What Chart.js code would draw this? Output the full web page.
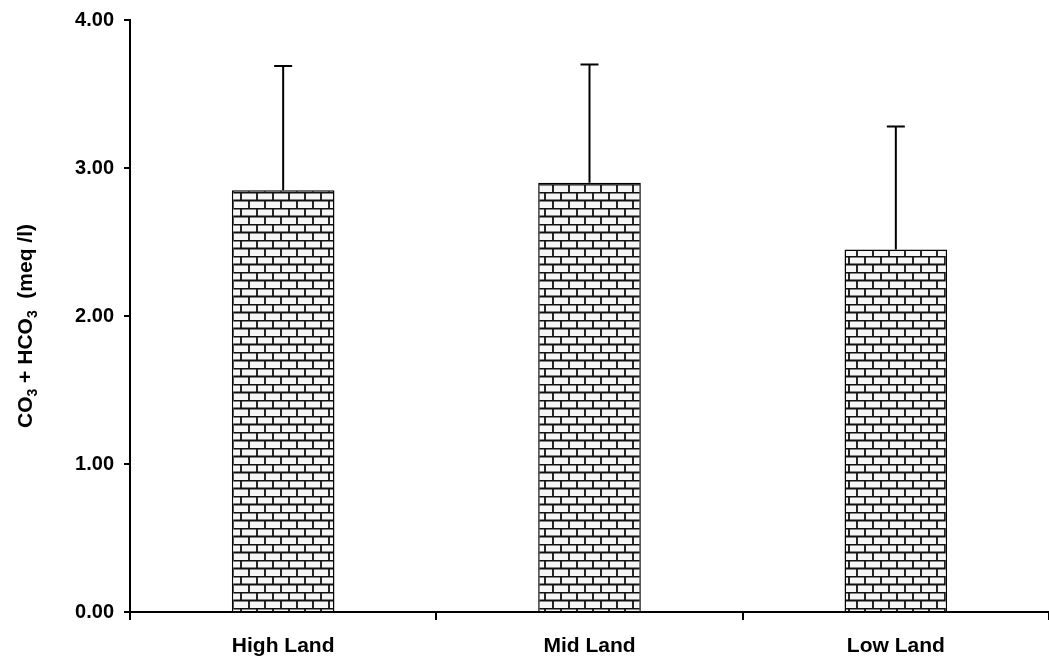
<!DOCTYPE html>
<html>
<head>
<meta charset="utf-8">
<script src="https://cdn.jsdelivr.net/npm/chart.js@4/dist/chart.umd.min.js"></script>
<style>
  html, body { margin: 0; padding: 0; background: #fff; }
  #wrap { width: 1049px; height: 664px; position: relative; }
</style>
</head>
<body>
<div id="wrap"><canvas id="c"></canvas></div>
<script>
// Site categories and mean carbonate + bicarbonate (meq/l) with standard deviation
const categories = ['High Land', 'Mid Land', 'Low Land'];
const meanValues = [2.85, 2.90, 2.45];
const sdValues = [0.84, 0.80, 0.83];
const yTicks = [0, 1, 2, 3, 4];

// Axis title pieces: [text, isSubscript]
const yTitleParts = [['CO', false], ['3', true], [' + HCO', false], ['3', true], ['  (meq /l)', false]];

const FONT = 'Liberation Sans, Arial, sans-serif';

// Brick hatch fill for the bars
function brickPattern() {
  const p = document.createElement('canvas');
  p.width = 16; p.height = 16;
  const g = p.getContext('2d');
  g.fillStyle = '#f6f6f6';
  g.fillRect(0, 0, 16, 16);
  g.strokeStyle = '#111';
  g.lineWidth = 1.8;
  g.beginPath();
  g.moveTo(0, 0.5); g.lineTo(16, 0.5);
  g.moveTo(0, 8.5); g.lineTo(16, 8.5);
  g.moveTo(1, 0); g.lineTo(1, 8);
  g.moveTo(9, 8); g.lineTo(9, 16);
  g.stroke();
  return g.createPattern(p, 'repeat');
}

const ctx = document.getElementById('c').getContext('2d');

// Upper error whiskers drawn on top of each bar
const errorBars = {
  id: 'errorBars',
  afterDatasetsDraw(chart) {
    const meta = chart.getDatasetMeta(0);
    const y = chart.scales.y;
    const c = chart.ctx;
    c.save();
    c.strokeStyle = '#000';
    c.lineWidth = 2;
    meta.data.forEach((bar, i) => {
      const top = y.getPixelForValue(meanValues[i] + sdValues[i]);
      c.beginPath();
      c.moveTo(bar.x, bar.y);
      c.lineTo(bar.x, top);
      c.moveTo(bar.x - 9, top);
      c.lineTo(bar.x + 9, top);
      c.stroke();
    });
    c.restore();
  }
};

// Rotated y-axis title with subscripts
const yTitle = {
  id: 'yTitle',
  afterDraw(chart) {
    const c = chart.ctx;
    const area = chart.chartArea;
    const main = 'bold 21px ' + FONT;
    const sub = 'bold 14px ' + FONT;
    let total = 0;
    const widths = yTitleParts.map(([t, s]) => {
      c.font = s ? sub : main;
      const w = c.measureText(t).width;
      total += w;
      return w;
    });
    c.save();
    c.translate(32, (area.top + area.bottom) / 2 + 10 + total / 2);
    c.rotate(-Math.PI / 2);
    c.fillStyle = '#000';
    c.textBaseline = 'alphabetic';
    let x = 0;
    yTitleParts.forEach(([t, s], i) => {
      c.font = s ? sub : main;
      c.fillText(t, x, s ? 5 : 0);
      x += widths[i];
    });
    c.restore();
  }
};

new Chart(ctx, {
  type: 'bar',
  data: {
    labels: categories,
    datasets: [{
      data: meanValues,
      backgroundColor: brickPattern(),
      borderColor: '#000',
      borderWidth: 1.5,
      categoryPercentage: 1,
      barPercentage: 0.335
    }]
  },
  options: {
    responsive: true,
    maintainAspectRatio: false,
    animation: false,
    layout: { padding: { top: 20, right: 0, bottom: 0, left: 0 } },
    plugins: { legend: { display: false }, tooltip: { enabled: false } },
    scales: {
      x: {
        grid: { display: true, drawOnChartArea: false, offset: true, color: '#000', lineWidth: 2, tickLength: 8 },
        border: { display: true, color: '#000', width: 2 },
        ticks: { color: '#000', font: { family: FONT, size: 21, weight: 'bold' }, padding: 14 },
        afterFit(s) { s.height = 52; }
      },
      y: {
        min: 0, max: 4,
        afterBuildTicks(s) { s.ticks = yTicks.map(v => ({ value: v })); },
        grid: { display: true, drawOnChartArea: false, color: '#000', lineWidth: 2, tickLength: 6 },
        border: { display: true, color: '#000', width: 2 },
        ticks: {
          color: '#000',
          font: { family: FONT, size: 20, weight: 'bold' },
          padding: 10,
          callback: v => Number(v).toFixed(2)
        },
        afterFit(s) { s.width = 130; s.paddingTop = 0; }
      }
    }
  },
  plugins: [errorBars, yTitle]
});
</script>
</body>
</html>
